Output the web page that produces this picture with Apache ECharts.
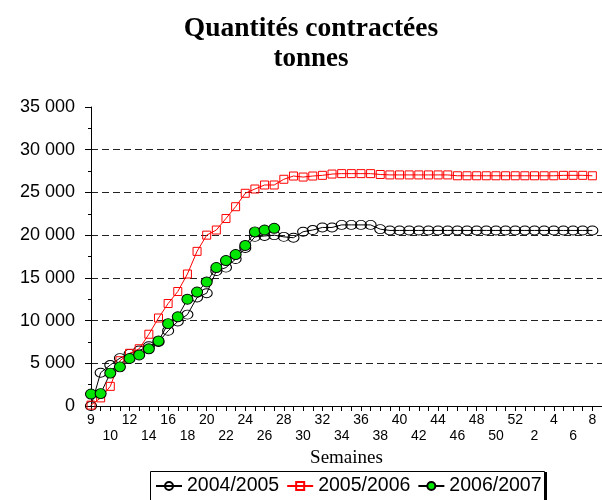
<!DOCTYPE html>
<html>
<head>
<meta charset="utf-8">
<script src="https://cdn.jsdelivr.net/npm/echarts@6/dist/echarts.min.js"></script>
<style>
  html, body { margin: 0; padding: 0; background: #fff; }
  #chart { width: 602px; height: 500px; }
</style>
</head>
<body>
<div id="chart"></div>
<script>
// semaines (la première est doublée comme sur l'original, la dernière sert de marge)
const weeks = ['9', '9', '10', '11', '12', '13', '14', '15', '16', '17', '18', '19', '20',
  '21', '22', '23', '24', '25', '26', '27', '28', '29', '30', '31', '32', '33', '34', '35',
  '36', '37', '38', '39', '40', '41', '42', '43', '44', '45', '46', '47', '48', '49', '50',
  '51', '52', '1', '2', '3', '4', '5', '6', '7', '8', '9'];

const s2004 = [0, 3900, 4800, 5600, 6100, 6500, 7000, 7500, 8800, 9900, 10700, 12700, 13200,
  15800, 16200, 17200, 18500, 19800, 19900, 20000, 19800, 19700, 20400, 20600, 20900, 20900,
  21200, 21200, 21200, 21200, 20700, 20550, 20550, 20550, 20550, 20550, 20550, 20550, 20550,
  20550, 20550, 20550, 20550, 20550, 20550, 20550, 20550, 20550, 20550, 20550, 20550, 20550, 20550];

const s2005 = [100, 950, 2300, 5300, 6170, 6700, 8400, 10300, 12000, 13400, 15450, 18100, 20000,
  20600, 21950, 23330, 24900, 25400, 25870, 25870, 26540, 26920, 26800, 26920, 27000, 27150,
  27200, 27200, 27200, 27200, 27100, 27050, 27050, 27050, 27050, 27050, 27050, 27050, 26950,
  26950, 26950, 26950, 26950, 26950, 26950, 26950, 26950, 26950, 26950, 27000, 27000, 27000, 26950];

const s2006 = [1400, 1450, 3850, 4580, 5560, 5970, 6690, 7610, 9640, 10440, 12500, 13340, 14520,
  16210, 17030, 17730, 18790, 20380, 20600, 20800];

const yTicks = { min: 0, max: 35000, step: 5000 };

const sans = 'Liberation Sans, Arial, sans-serif';
const serif = 'Liberation Serif, Times New Roman, serif';

// cadre de la légende avec son ombre à droite
const legendBox = { x: 150, y: 471, w: 394, h: 40 };

const chart = echarts.init(document.getElementById('chart'));
chart.setOption({
  animation: false,
  backgroundColor: '#fff',
  title: {
    text: 'Quantités contractées',
    subtext: 'tonnes',
    left: 311,
    top: 15,
    textAlign: 'center',
    padding: 0,
    itemGap: 3,
    textStyle: { fontFamily: serif, fontWeight: 'bold', fontSize: 27.5, color: '#000' },
    subtextStyle: { fontFamily: serif, fontWeight: 'bold', fontSize: 27, color: '#000' }
  },
  grid: { left: 91, right: -3, top: 107, bottom: 94, containLabel: false },
  graphic: [
    {
      type: 'rect', z: 3, silent: true,
      shape: { x: legendBox.x + 3, y: legendBox.y + 1, width: legendBox.w, height: legendBox.h },
      style: { fill: '#000' }
    },
    {
      type: 'rect', z: 3, silent: true,
      shape: { x: legendBox.x + 0.5, y: legendBox.y + 0.5, width: legendBox.w, height: legendBox.h },
      style: { fill: '#fff', stroke: '#000', lineWidth: 1 }
    }
  ],
  legend: {
    left: legendBox.x,
    top: legendBox.y,
    itemWidth: 26,
    itemHeight: 10,
    itemGap: 7,
    padding: [5, 10, 5, 5],
    textStyle: { fontFamily: sans, fontSize: 19.5, color: '#000' },
    data: ['2004/2005', '2005/2006', '2006/2007']
  },
  xAxis: {
    type: 'category',
    data: weeks,
    boundaryGap: false,
    name: 'Semaines',
    nameLocation: 'middle',
    nameGap: 35,
    nameTextStyle: { fontFamily: serif, fontSize: 19, color: '#000' },
    axisLine: { lineStyle: { color: '#000', width: 1 } },
    axisTick: { interval: 0, length: 5, lineStyle: { color: '#000' } },
    axisLabel: {
      interval: 1,
      margin: 6,
      fontFamily: sans,
      fontSize: 14,
      lineHeight: 16,
      color: '#000',
      formatter: (v, i) => (i % 4 === 0 ? v : '\n' + v)
    },
    splitLine: { show: false }
  },
  yAxis: {
    type: 'value',
    min: yTicks.min,
    max: yTicks.max,
    interval: yTicks.step,
    axisLine: { show: true, lineStyle: { color: '#000', width: 1 } },
    axisTick: { show: true, length: 6, lineStyle: { color: '#000' } },
    minorTick: { show: true, splitNumber: 2, length: 3, lineStyle: { color: '#000' } },
    axisLabel: {
      margin: 16,
      fontFamily: sans,
      fontSize: 18,
      color: '#000',
      padding: [7, 0, 0, 0],
      formatter: v => String(v).replace(/\B(?=(\d{3})+(?!\d))/g, ' ')
    },
    splitLine: {
      show: true,
      showMaxLine: false,
      lineStyle: { color: '#222', width: 1, type: [7, 4] }
    }
  },
  series: [
    {
      name: '2004/2005',
      type: 'line',
      data: s2004,
      symbol: 'circle',
      symbolSize: [11, 9],
      showAllSymbol: true,
      lineStyle: { color: '#000', width: 1 },
      itemStyle: { color: 'rgba(0,0,0,0)', borderColor: '#000', borderWidth: 1 }
    },
    {
      name: '2005/2006',
      type: 'line',
      data: s2005,
      symbol: 'rect',
      symbolSize: 8,
      showAllSymbol: true,
      lineStyle: { color: '#ff0000', width: 1 },
      itemStyle: { color: 'rgba(0,0,0,0)', borderColor: '#ff0000', borderWidth: 1 }
    },
    {
      name: '2006/2007',
      type: 'line',
      data: s2006,
      symbol: 'circle',
      symbolSize: [11, 10],
      showAllSymbol: true,
      lineStyle: { color: '#000', width: 1 },
      itemStyle: { color: '#00e600', borderColor: '#000', borderWidth: 1 }
    }
  ]
});
</script>
</body>
</html>
